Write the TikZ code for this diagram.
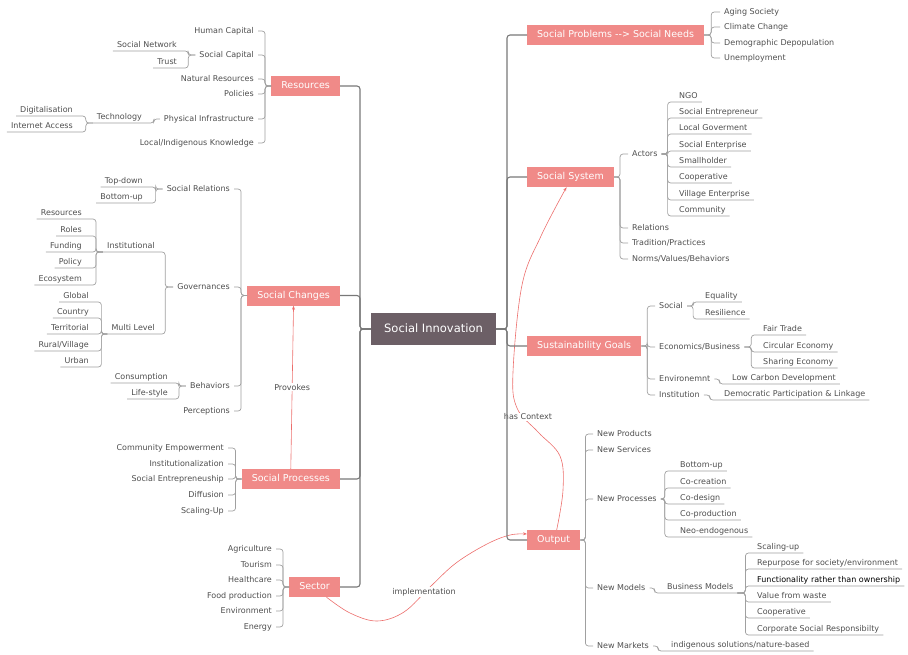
\documentclass[tikz,border=0pt]{standalone}
\usepackage{fontspec}
\setmainfont{DejaVu Sans}
\usepackage{xcolor}
\usetikzlibrary{positioning,arrows.meta}
\definecolor{topicfill}{RGB}{240,138,136}
\definecolor{corefill}{RGB}{108,95,102}
\definecolor{itemtext}{RGB}{78,78,78}
\definecolor{branchgrey}{RGB}{160,160,160}
\definecolor{trunkgrey}{RGB}{120,120,120}
\definecolor{relred}{RGB}{236,110,108}

\begin{document}
\begin{tikzpicture}[x=1pt, y=-1pt,
  topic/.style={fill=topicfill, text=white, font=\fontsize{9.5}{11}\selectfont,
                inner xsep=10pt, inner ysep=0pt, minimum height=20pt, text height=7pt, text depth=2pt},
  core/.style={fill=corefill, text=white, font=\fontsize{11.5}{13}\selectfont,
               inner xsep=13pt, inner ysep=0pt, minimum height=32pt, text height=8.5pt, text depth=2.5pt},
  item/.style={text=itemtext, font=\fontsize{8}{9.6}\selectfont,
               inner xsep=4pt, inner ysep=1pt, text height=6pt, text depth=2pt},
  trunk/.style={draw=trunkgrey, line width=1.1pt, rounded corners=3pt},
  branch/.style={draw=branchgrey, line width=0.7pt, rounded corners=3pt},
  relation/.style={draw=relred, line width=0.6pt, -{Stealth[length=4pt,width=3pt]}},
  rellabel/.style={fill=white, text=itemtext, font=\fontsize{8}{9.6}\selectfont, inner sep=1pt}
]
  \useasboundingbox (0,0) rectangle (908,654);

  \node[core] (si) at (433.5,329) {Social Innovation};

  % left half
  \node[topic, anchor=east] (res)  at (340,86)  {Resources};
  \node[topic, anchor=east] (chg)  at (340,295.5) {Social Changes};
  \node[topic, anchor=east] (proc) at (340,479) {Social Processes};
  \node[topic, anchor=east] (sec)  at (340,587) {Sector};

  \node[item, anchor=east] (hcap)   at (258,31)  {Human Capital};
  \node[item, anchor=east] (scap)   at (258,55)  {Social Capital};
  \node[item, anchor=east] (natres) at (258,79)  {Natural Resources};
  \node[item, anchor=east] (pol)    at (258,94)  {Policies};
  \node[item, anchor=east] (phys)   at (258,119) {Physical Infrastructure};
  \node[item, anchor=east] (lik)    at (258,143) {Local/Indigenous Knowledge};
  \node[item, anchor=south east] (snet)  at (181,51)  {Social Network};
  \node[item, anchor=south east] (trust) at (181,68)  {Trust};
  \node[item, anchor=south east] (tech)  at (146,123) {Technology};
  \node[item, anchor=south east] (digi)  at (77,116)  {Digitalisation};
  \node[item, anchor=south east] (inet)  at (77,132)  {Internet Access};

  \node[item, anchor=east] (srel)  at (234,189) {Social Relations};
  \node[item, anchor=east] (gov)   at (234,287) {Governances};
  \node[item, anchor=east] (behav) at (234,386) {Behaviors};
  \node[item, anchor=east] (perc)  at (234,411) {Perceptions};
  \node[item, anchor=south east] (tdown)  at (147,187) {Top-down};
  \node[item, anchor=south east] (bup)    at (147,203) {Bottom-up};
  \node[item, anchor=south east] (inst)   at (159,252) {Institutional};
  \node[item, anchor=south east] (multi)  at (159,334) {Multi Level};
  \node[item, anchor=south east] (ires)   at (86,219)  {Resources};
  \node[item, anchor=south east] (roles)  at (86,236)  {Roles};
  \node[item, anchor=south east] (fund)   at (86,252)  {Funding};
  \node[item, anchor=south east] (policy) at (86,268)  {Policy};
  \node[item, anchor=south east] (eco)    at (86,285)  {Ecosystem};
  \node[item, anchor=south east] (glob)   at (93,302)  {Global};
  \node[item, anchor=south east] (ctry)   at (93,318)  {Country};
  \node[item, anchor=south east] (terr)   at (93,334)  {Territorial};
  \node[item, anchor=south east] (rural)  at (93,351)  {Rural/Village};
  \node[item, anchor=south east] (urban)  at (93,367)  {Urban};
  \node[item, anchor=south east] (cons)   at (172,383) {Consumption};
  \node[item, anchor=south east] (life)   at (172,399) {Life-style};

  \node[item, anchor=east] (cemp)  at (228,448) {Community Empowerment};
  \node[item, anchor=east] (instz) at (228,464) {Institutionalization};
  \node[item, anchor=east] (sentp) at (228,479) {Social Entrepreneuship};
  \node[item, anchor=east] (diff)  at (228,495) {Diffusion};
  \node[item, anchor=east] (scal)  at (228,511) {Scaling-Up};

  \node[item, anchor=east] (agri)   at (276,549) {Agriculture};
  \node[item, anchor=east] (tour)   at (276,565) {Tourism};
  \node[item, anchor=east] (health) at (276,580) {Healthcare};
  \node[item, anchor=east] (food)   at (276,596) {Food production};
  \node[item, anchor=east] (env)    at (276,611) {Environment};
  \node[item, anchor=east] (energy) at (276,627) {Energy};

  % right half
  \node[topic, anchor=west] (prob) at (527,35)  {Social Problems -\kern0pt-> Social Needs};
  \node[topic, anchor=west] (sys)  at (527,177) {Social System};
  \node[topic, anchor=west] (goal) at (527,346) {Sustainability Goals};
  \node[topic, anchor=west] (out)  at (527,540) {Output};

  \node[item, anchor=west] (aging)   at (720,12) {Aging Society};
  \node[item, anchor=west] (climate) at (720,27) {Climate Change};
  \node[item, anchor=west] (demo)    at (720,43) {Demographic Depopulation};
  \node[item, anchor=west] (unemp)   at (720,58) {Unemployment};

  \node[item, anchor=west] (actors) at (628,154) {Actors};
  \node[item, anchor=west] (rels)   at (628,228) {Relations};
  \node[item, anchor=west] (trad)   at (628,243) {Tradition/Practices};
  \node[item, anchor=west] (norms)  at (628,259) {Norms/Values/Behaviors};
  \node[item, anchor=south west] (ngo)     at (675,102) {NGO};
  \node[item, anchor=south west] (sentr)   at (675,118) {Social Entrepreneur};
  \node[item, anchor=south west] (lgov)    at (675,134) {Local Goverment};
  \node[item, anchor=south west] (sentz)   at (675,151) {Social Enterprise};
  \node[item, anchor=south west] (small)   at (675,167) {Smallholder};
  \node[item, anchor=south west] (coop)    at (675,183) {Cooperative};
  \node[item, anchor=south west] (village) at (675,200) {Village Enterprise};
  \node[item, anchor=south west] (comm)    at (675,216) {Community};

  \node[item, anchor=west] (gsoc)  at (655,306) {Social};
  \node[item, anchor=west] (econ)  at (655,347) {Economics/Business};
  \node[item, anchor=west] (envm)  at (655,379) {Environemnt};
  \node[item, anchor=west] (ginst) at (655,395) {Institution};
  \node[item, anchor=south west] (equal) at (701,302) {Equality};
  \node[item, anchor=south west] (resil) at (701,319) {Resilience};
  \node[item, anchor=south west] (fair)  at (759,335) {Fair Trade};
  \node[item, anchor=south west] (circ)  at (759,352) {Circular Economy};
  \node[item, anchor=south west] (share) at (759,368) {Sharing Economy};
  \node[item, anchor=south west] (lowc)  at (728,384) {Low Carbon Development};
  \node[item, anchor=south west] (demp)  at (720,400) {Democratic Participation \& Linkage};

  \node[item, anchor=west] (nprod) at (593,434) {New Products};
  \node[item, anchor=west] (nserv) at (593,450) {New Services};
  \node[item, anchor=west] (nproc) at (593,499) {New Processes};
  \node[item, anchor=west] (nmod)  at (593,588) {New Models};
  \node[item, anchor=west] (nmark) at (593,646) {New Markets};
  \node[item, anchor=south west] (pbup)   at (676,471) {Bottom-up};
  \node[item, anchor=south west] (cocre)  at (676,488) {Co-creation};
  \node[item, anchor=south west] (codes)  at (676,504) {Co-design};
  \node[item, anchor=south west] (coprod) at (676,520) {Co-production};
  \node[item, anchor=south west] (neo)    at (676,537) {Neo-endogenous};
  \node[item, anchor=south west] (bmod)   at (663,593) {Business Models};
  \node[item, anchor=south west] (scup)   at (753,553) {Scaling-up};
  \node[item, anchor=south west] (repur)  at (753,569) {Repurpose for society/environment};
  \node[item, anchor=south west, text=black] (func) at (753,586) {Functionality rather than ownership};
  \node[item, anchor=south west] (waste)  at (753,602) {Value from waste};
  \node[item, anchor=south west] (mcoop)  at (753,618) {Cooperative};
  \node[item, anchor=south west] (csr)    at (753,635) {Corporate Social Responsibilty};
  \node[item, anchor=south west] (indig)  at (667,651) {indigenous solutions/nature-based};

  % cross links
  \draw[relation] (proc.north) -- node[rellabel] (provk) {Provokes} (chg.south);
  \draw[relation] plot[smooth, tension=0.6] coordinates {([xshift=3pt]out.north) (563,490) (560,456) (538,432) (517,408) (513,372) (522,285) (541,236) ([xshift=-4pt]sys.south)};
  \node[rellabel] (ctx) at (528,417) {has Context};
  \draw[relation] plot[smooth, tension=0.6] coordinates {([xshift=12pt]sec.south) (350,613) (377,621) (404,612) (430,587) (456,563) (487,544) (510,535) ([yshift=6pt]out.west)};
  \node[rellabel] (impl) at (424,592) {implementation};

  \draw[trunk] (si.west) -- ++(-11,0) |- (res.east);
  \draw[trunk] (si.west) -- ++(-11,0) |- (chg.east);
  \draw[trunk] (si.west) -- ++(-11,0) |- (proc.east);
  \draw[trunk] (si.west) -- ++(-11,0) |- (sec.east);
  \draw[trunk] (si.east) -- ++(11,0) |- (prob.west);
  \draw[trunk] (si.east) -- ++(11,0) |- (sys.west);
  \draw[trunk] (si.east) -- ++(11,0) |- (goal.west);
  \draw[trunk] (si.east) -- ++(11,0) |- (out.west);

  \draw[branch] (res.west) -- ++(-6,0) |- (hcap.east);
  \draw[branch] (res.west) -- ++(-6,0) |- (scap.east);
  \draw[branch] (res.west) -- ++(-6,0) |- (natres.east);
  \draw[branch] (res.west) -- ++(-6,0) |- (pol.east);
  \draw[branch] (res.west) -- ++(-6,0) |- (phys.east);
  \draw[branch] (res.west) -- ++(-6,0) |- (lik.east);
  \draw[branch] (scap.west) -- ++(-7,0) |- (snet.south east) -- (snet.south west);
  \draw[branch] (scap.west) -- ++(-7,0) |- (trust.south east) -- (trust.south west);
  \draw[branch] (phys.west) -- ++(-6,0) |- (tech.south east) -- (tech.south west);
  \draw[branch] (tech.south west) -- ++(-7,0) |- (digi.south east) -- (digi.south west);
  \draw[branch] (tech.south west) -- ++(-7,0) |- (inet.south east) -- (inet.south west);

  \draw[branch] (chg.west) -- ++(-6,0) |- (srel.east);
  \draw[branch] (chg.west) -- ++(-6,0) |- (gov.east);
  \draw[branch] (chg.west) -- ++(-6,0) |- (behav.east);
  \draw[branch] (chg.west) -- ++(-6,0) |- (perc.east);
  \draw[branch] (srel.west) -- ++(-7,0) |- (tdown.south east) -- (tdown.south west);
  \draw[branch] (srel.west) -- ++(-7,0) |- (bup.south east) -- (bup.south west);
  \draw[branch] (gov.west) -- ++(-8,0) |- (inst.south east) -- (inst.south west);
  \draw[branch] (gov.west) -- ++(-8,0) |- (multi.south east) -- (multi.south west);
  \draw[branch] (inst.south west) -- ++(-7,0) |- (ires.south east) -- (ires.south west);
  \draw[branch] (inst.south west) -- ++(-7,0) |- (roles.south east) -- (roles.south west);
  \draw[branch] (inst.south west) -- ++(-7,0) |- (fund.south east) -- (fund.south west);
  \draw[branch] (inst.south west) -- ++(-7,0) |- (policy.south east) -- (policy.south west);
  \draw[branch] (inst.south west) -- ++(-7,0) |- (eco.south east) -- (eco.south west);
  \draw[branch] (multi.south west) -- ++(-6,0) |- (glob.south east) -- (glob.south west);
  \draw[branch] (multi.south west) -- ++(-6,0) |- (ctry.south east) -- (ctry.south west);
  \draw[branch] (multi.south west) -- ++(-6,0) |- (terr.south east) -- (terr.south west);
  \draw[branch] (multi.south west) -- ++(-6,0) |- (rural.south east) -- (rural.south west);
  \draw[branch] (multi.south west) -- ++(-6,0) |- (urban.south east) -- (urban.south west);
  \draw[branch] (behav.west) -- ++(-7,0) |- (cons.south east) -- (cons.south west);
  \draw[branch] (behav.west) -- ++(-7,0) |- (life.south east) -- (life.south west);

  \draw[branch] (proc.west) -- ++(-6,0) |- (cemp.east);
  \draw[branch] (proc.west) -- ++(-6,0) |- (instz.east);
  \draw[branch] (proc.west) -- ++(-6,0) |- (sentp.east);
  \draw[branch] (proc.west) -- ++(-6,0) |- (diff.east);
  \draw[branch] (proc.west) -- ++(-6,0) |- (scal.east);

  \draw[branch] (sec.west) -- ++(-6,0) |- (agri.east);
  \draw[branch] (sec.west) -- ++(-6,0) |- (tour.east);
  \draw[branch] (sec.west) -- ++(-6,0) |- (health.east);
  \draw[branch] (sec.west) -- ++(-6,0) |- (food.east);
  \draw[branch] (sec.west) -- ++(-6,0) |- (env.east);
  \draw[branch] (sec.west) -- ++(-6,0) |- (energy.east);

  \draw[branch] (prob.east) -- ++(7,0) |- (aging.west);
  \draw[branch] (prob.east) -- ++(7,0) |- (climate.west);
  \draw[branch] (prob.east) -- ++(7,0) |- (demo.west);
  \draw[branch] (prob.east) -- ++(7,0) |- (unemp.west);

  \draw[branch] (sys.east) -- ++(6,0) |- (actors.west);
  \draw[branch] (sys.east) -- ++(6,0) |- (rels.west);
  \draw[branch] (sys.east) -- ++(6,0) |- (trad.west);
  \draw[branch] (sys.east) -- ++(6,0) |- (norms.west);
  \draw[branch] (actors.east) -- ++(6,0) |- (ngo.south west) -- (ngo.south east);
  \draw[branch] (actors.east) -- ++(6,0) |- (sentr.south west) -- (sentr.south east);
  \draw[branch] (actors.east) -- ++(6,0) |- (lgov.south west) -- (lgov.south east);
  \draw[branch] (actors.east) -- ++(6,0) |- (sentz.south west) -- (sentz.south east);
  \draw[branch] (actors.east) -- ++(6,0) |- (small.south west) -- (small.south east);
  \draw[branch] (actors.east) -- ++(6,0) |- (coop.south west) -- (coop.south east);
  \draw[branch] (actors.east) -- ++(6,0) |- (village.south west) -- (village.south east);
  \draw[branch] (actors.east) -- ++(6,0) |- (comm.south west) -- (comm.south east);

  \draw[branch] (goal.east) -- ++(6,0) |- (gsoc.west);
  \draw[branch] (goal.east) -- ++(6,0) |- (econ.west);
  \draw[branch] (goal.east) -- ++(6,0) |- (envm.west);
  \draw[branch] (goal.east) -- ++(6,0) |- (ginst.west);
  \draw[branch] (gsoc.east) -- ++(6,0) |- (equal.south west) -- (equal.south east);
  \draw[branch] (gsoc.east) -- ++(6,0) |- (resil.south west) -- (resil.south east);
  \draw[branch] (econ.east) -- ++(7,0) |- (fair.south west) -- (fair.south east);
  \draw[branch] (econ.east) -- ++(7,0) |- (circ.south west) -- (circ.south east);
  \draw[branch] (econ.east) -- ++(7,0) |- (share.south west) -- (share.south east);
  \draw[branch] (envm.east) -- ++(5,0) |- (lowc.south west) -- (lowc.south east);
  \draw[branch] (ginst.east) -- ++(6,0) |- (demp.south west) -- (demp.south east);

  \draw[branch] (out.east) -- ++(5,0) |- (nprod.west);
  \draw[branch] (out.east) -- ++(5,0) |- (nserv.west);
  \draw[branch] (out.east) -- ++(5,0) |- (nproc.west);
  \draw[branch] (out.east) -- ++(5,0) |- (nmod.west);
  \draw[branch] (out.east) -- ++(5,0) |- (nmark.west);
  \draw[branch] (nproc.east) -- ++(4,0) |- (pbup.south west) -- (pbup.south east);
  \draw[branch] (nproc.east) -- ++(4,0) |- (cocre.south west) -- (cocre.south east);
  \draw[branch] (nproc.east) -- ++(4,0) |- (codes.south west) -- (codes.south east);
  \draw[branch] (nproc.east) -- ++(4,0) |- (coprod.south west) -- (coprod.south east);
  \draw[branch] (nproc.east) -- ++(4,0) |- (neo.south west) -- (neo.south east);
  \draw[branch] (nmod.east) -- ++(5,0) |- (bmod.south west) -- (bmod.south east);
  \draw[branch] (bmod.south east) -- ++(8,0) |- (scup.south west) -- (scup.south east);
  \draw[branch] (bmod.south east) -- ++(8,0) |- (repur.south west) -- (repur.south east);
  \draw[branch] (bmod.south east) -- ++(8,0) |- (func.south west) -- (func.south east);
  \draw[branch] (bmod.south east) -- ++(8,0) |- (waste.south west) -- (waste.south east);
  \draw[branch] (bmod.south east) -- ++(8,0) |- (mcoop.south west) -- (mcoop.south east);
  \draw[branch] (bmod.south east) -- ++(8,0) |- (csr.south west) -- (csr.south east);
  \draw[branch] (nmark.east) -- ++(5,0) |- (indig.south west) -- (indig.south east);
\end{tikzpicture}
\end{document}
